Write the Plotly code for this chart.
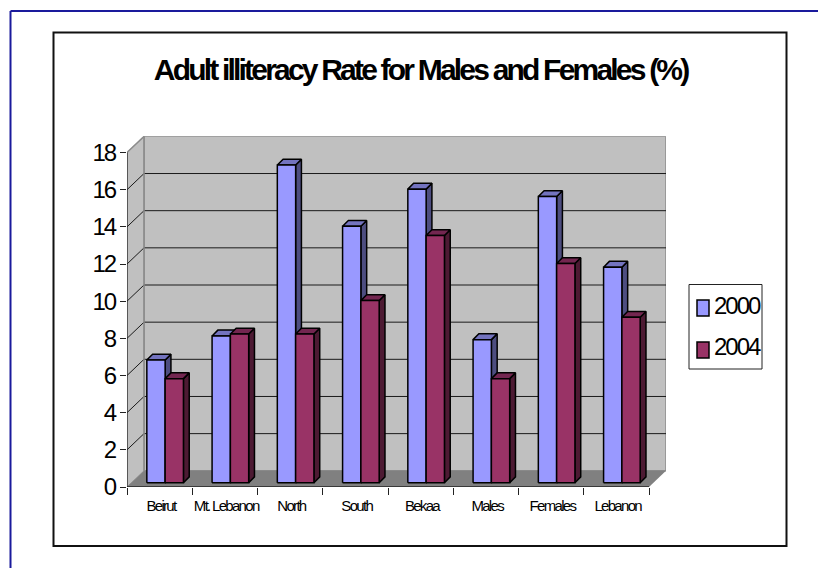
import plotly.graph_objects as go

categories = ["Beirut", "Mt. Lebanon", "North", "South", "Bekaa", "Males", "Females", "Lebanon"]
series_2000 = [6.6, 7.9, 17.1, 13.8, 15.8, 7.7, 15.4, 11.6]
series_2004 = [5.6, 8.0, 8.0, 9.8, 13.3, 5.6, 11.8, 8.9]
y_ticks = [0, 2, 4, 6, 8, 10, 12, 14, 16, 18]

W, H = 818, 568
L, B = 127, 487           # pixel origin of the front floor corner
UX, UY = 65.25, 18.58     # pixels per category / per value unit
WX, WY = 17 / UX, 16.2 / UY   # wall depth in data units
DX, DY = 5.8 / UX, 5.8 / UY   # bar depth in data units
BASE = 4.3 / UY
BAR_W = 18.3 / UX
SHIFT = 5.5 / UX
N = len(categories)
YMAX = max(y_ticks)


def px(x): return x / W
def py(y): return 1 - y / H


fig = go.Figure()


def poly(xs, ys, fill, line="rgba(0,0,0,0)", width=0):
    fig.add_trace(go.Scatter(x=xs, y=ys, mode="lines", fill="toself", fillcolor=fill,
                             line=dict(color=line, width=width), hoverinfo="skip",
                             showlegend=False, cliponaxis=False))


def line(xs, ys, color, width=1):
    fig.add_trace(go.Scatter(x=xs, y=ys, mode="lines", line=dict(color=color, width=width),
                             hoverinfo="skip", showlegend=False, cliponaxis=False))


# walls and floor
poly([WX, N + WX, N + WX, WX, WX], [WY, WY, YMAX + WY, YMAX + WY, WY], "#c0c0c0", "#8c8c8c", 1.5)
poly([0, WX, WX, 0, 0], [0, WY, YMAX + WY, YMAX, 0], "#c0c0c0", "#8c8c8c", 1)
poly([0, N, N + WX, WX, 0], [0, 0, WY, WY, 0], "#808080")

# gridlines
gx, gy = [], []
for t in y_ticks[1:-1]:
    gx += [0, WX, N + WX, None]
    gy += [t, t + WY, t + WY, None]
line(gx, gy, "#1a1a1a", 1)
line([WX, WX], [WY, YMAX + WY], "#8c8c8c", 1.5)
line([0, WX], [YMAX, YMAX + WY], "#8c8c8c", 1.5)
line([0, 0], [0, YMAX], "#222222", 1.2)
line([0, N], [0, 0], "#222222", 1.5)


def faces(values, offset, front, top, side):
    fx, fy, tx, ty, sx, sy = [], [], [], [], [], []
    for i, v in enumerate(values):
        x0 = i + 0.5 + SHIFT + offset
        x1 = x0 + BAR_W
        y0, y1 = BASE, BASE + v
        fx += [x0, x1, x1, x0, x0, None]
        fy += [y0, y0, y1, y1, y0, None]
        tx += [x0, x1, x1 + DX, x0 + DX, x0, None]
        ty += [y1, y1, y1 + DY, y1 + DY, y1, None]
        sx += [x1, x1 + DX, x1 + DX, x1, x1, None]
        sy += [y0, y0 + DY, y1 + DY, y1, y0, None]
    poly(sx, sy, side, "#000000", 1.5)
    poly(tx, ty, top, "#000000", 1.5)
    poly(fx, fy, front, "#000000", 1.5)


faces(series_2000, -BAR_W, "#9999ff", "#7373bf", "#4d4d80")
faces(series_2004, 0, "#993366", "#732650", "#4d1a33")

shapes = [
    # page rule (blue) and chart frame
    dict(type="line", xref="paper", yref="paper", x0=px(10.5), x1=1, y0=py(11), y1=py(11),
         line=dict(color="#1a1a9c", width=2)),
    dict(type="line", xref="paper", yref="paper", x0=px(10.5), x1=px(10.5), y0=py(11), y1=0,
         line=dict(color="#1a1a9c", width=2)),
    dict(type="rect", xref="paper", yref="paper", x0=px(53.5), x1=px(786.5), y0=py(32.5), y1=py(546),
         line=dict(color="#111111", width=2)),
    # legend
    dict(type="rect", xref="paper", yref="paper", x0=px(689), x1=px(762), y0=py(284.5), y1=py(369),
         line=dict(color="#222222", width=1), fillcolor="#ffffff"),
    dict(type="rect", xref="paper", yref="paper", x0=px(697), x1=px(709), y0=py(300), y1=py(316),
         line=dict(color="#000000", width=1.5), fillcolor="#9999ff"),
    dict(type="rect", xref="paper", yref="paper", x0=px(697), x1=px(709), y0=py(342), y1=py(358),
         line=dict(color="#000000", width=1.5), fillcolor="#993366"),
]

annotations = [
    dict(text="<b>Adult illiteracy Rate for Males and Females (%)</b>", xref="paper", yref="paper",
         x=px(420.5), y=py(69), xanchor="center", yanchor="middle", showarrow=False,
         font=dict(size=30, color="#000000", family="Liberation Sans")),
    dict(text="2000", xref="paper", yref="paper", x=px(736.5), y=py(305), xanchor="center", yanchor="middle",
         showarrow=False, font=dict(size=24, color="#000000", family="Liberation Sans")),
    dict(text="2004", xref="paper", yref="paper", x=px(736.5), y=py(346), xanchor="center", yanchor="middle",
         showarrow=False, font=dict(size=24, color="#000000", family="Liberation Sans")),
]

fig.update_layout(
    width=W, height=H, margin=dict(l=0, r=0, t=0, b=0, pad=0, autoexpand=False),
    paper_bgcolor="#ffffff", plot_bgcolor="#ffffff", showlegend=False,
    shapes=shapes, annotations=annotations,
    font=dict(family="Liberation Sans", color="#000000"),
    xaxis=dict(domain=[px(L), px(L + UX * (N + WX))], range=[0, N + WX], showgrid=False, zeroline=False,
               showline=False, tickmode="array", tickvals=[i + 0.52 for i in range(N)], ticktext=categories,
               ticks="", tickfont=dict(size=15), ticklabelstandoff=8,
               minor=dict(tickmode="array", tickvals=list(range(N + 1)), ticks="outside", ticklen=7,
                          tickcolor="#222222", tickwidth=1, showgrid=False)),
    yaxis=dict(domain=[py(B), py(B - UY * (YMAX + WY))], range=[0, YMAX + WY], showgrid=False, zeroline=False,
               showline=False, tickmode="array", tickvals=y_ticks, ticks="outside", ticklen=6,
               tickcolor="#222222", tickwidth=1, tickfont=dict(size=24)),
)

post = """
document.body.style.margin = '0';
var gd = document.querySelector('.plotly-graph-div');
gd.querySelectorAll('.xtick text').forEach(function(t){t.style.letterSpacing='-1.7px';});
gd.querySelectorAll('.ytick text').forEach(function(t){t.style.letterSpacing='-2px';});
gd.querySelectorAll('.annotation-text').forEach(function(t){
  t.style.letterSpacing = t.textContent.length > 10 ? '-2.8px' : '-2px';
});
"""
fig.write_html("out.html", post_script=post, config={"displayModeBar": False})
